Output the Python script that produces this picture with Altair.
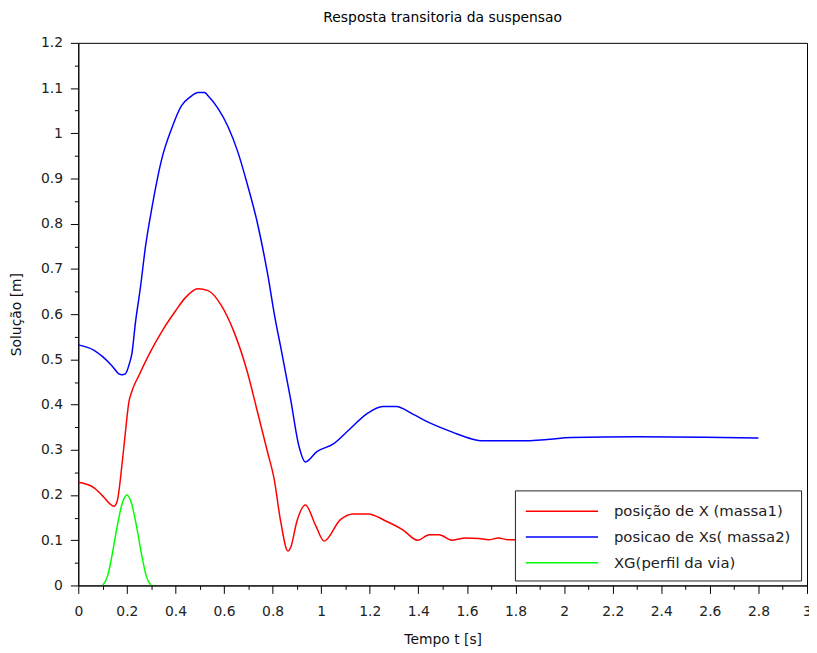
import altair as alt
import pandas as pd

# ---- data ----
labels = ["posição de X (massa1)", "posicao de Xs( massa2)", "XG(perfil da via)"]
colors = ["#ff0000", "#0000ff", "#00ff00"]

t_x = [0, 0.065, 0.1, 0.147, 0.16, 0.181, 0.194, 0.208, 0.221, 0.25, 0.3,
       0.35, 0.4, 0.44, 0.493, 0.534, 0.588, 0.643, 0.697, 0.738, 0.779, 0.806,
       0.833, 0.863, 0.875, 0.9, 0.935, 0.976, 1.012, 1.078, 1.132, 1.193, 1.268,
       1.336, 1.397, 1.445, 1.485, 1.54, 1.594, 1.648, 1.689, 1.73, 1.77, 1.8, 2.0,
       2.4, 2.8]
v_x = [0.228, 0.216, 0.198, 0.175, 0.186, 0.273, 0.339, 0.405, 0.43, 0.465, 0.52,
       0.567, 0.607, 0.636, 0.656, 0.652, 0.62, 0.558, 0.47, 0.383, 0.295, 0.236,
       0.142, 0.076, 0.085, 0.142, 0.178, 0.134, 0.098, 0.145, 0.158, 0.158, 0.142,
       0.123, 0.1, 0.112, 0.112, 0.1, 0.105, 0.104, 0.101, 0.105, 0.101, 0.101, 0.102,
       0.101, 0.101]

t_xs = [0, 0.065, 0.1, 0.14, 0.167, 0.18, 0.194, 0.201, 0.21, 0.221, 0.235, 0.256,
        0.276, 0.303, 0.344, 0.384, 0.425, 0.46, 0.493, 0.52, 0.534, 0.575, 0.616,
        0.656, 0.697, 0.738, 0.779, 0.812, 0.833, 0.874, 0.908, 0.935, 0.982, 1.05,
        1.118, 1.186, 1.254, 1.309, 1.377, 1.445, 1.54, 1.62, 1.66, 1.85, 1.93, 2.03,
        2.3, 2.58, 2.8]
v_xs = [0.532, 0.52, 0.506, 0.485, 0.468, 0.466, 0.468, 0.475, 0.49, 0.514, 0.58, 0.66,
        0.747, 0.835, 0.944, 1.01, 1.061, 1.08, 1.09, 1.09, 1.083, 1.055, 1.015,
        0.96, 0.885, 0.8, 0.69, 0.585, 0.528, 0.412, 0.309, 0.273, 0.296, 0.313,
        0.346, 0.379, 0.396, 0.396, 0.379, 0.36, 0.339, 0.324, 0.32, 0.32, 0.323, 0.327,
        0.329, 0.328, 0.326]

t_xg = [0.1, 0.12, 0.14, 0.16, 0.18, 0.2, 0.22, 0.24, 0.26, 0.28, 0.3]
v_xg = [0, 0.02, 0.07, 0.13, 0.18, 0.2, 0.18, 0.13, 0.07, 0.02, 0]

x_ticks = [round(i * 0.1, 10) for i in range(0, 31)]
y_ticks = [round(i * 0.05, 10) for i in range(0, 25)]

rows = []
for t, v in zip(t_x, v_x):
    rows.append({"t": t, "v": v, "serie": labels[0]})
for t, v in zip(t_xs, v_xs):
    rows.append({"t": t, "v": v, "serie": labels[1]})
for t, v in zip(t_xg, v_xg):
    rows.append({"t": t, "v": v, "serie": labels[2]})
df = pd.DataFrame(rows)

FONT = "DejaVu Sans"

chart = alt.Chart(df).mark_line(strokeWidth=1.5, clip=True, interpolate="monotone").encode(
    x=alt.X("t:Q",
            scale=alt.Scale(domain=[0, 3], nice=False, zero=False),
            axis=alt.Axis(values=x_ticks, title="Tempo t [s]", grid=False,
                          labelExpr="round(datum.value*10) % 2 == 0 ? format(datum.value, '~g') : ''",
                          tickSize={"condition": {"test": "round(datum.value*10) % 2 == 0", "value": 8}, "value": 4},
                          labelPadding=11, titlePadding=15, labelFlush=False, labelOverlap=False)),
    y=alt.Y("v:Q",
            scale=alt.Scale(domain=[0, 1.2], nice=False, zero=False),
            axis=alt.Axis(values=y_ticks, title="Solução [m]", grid=False,
                          labelExpr="round(datum.value*20) % 2 == 0 ? format(datum.value, '~g') : ''",
                          tickSize={"condition": {"test": "round(datum.value*20) % 2 == 0", "value": 8}, "value": 4},
                          labelPadding=8, titlePadding=17, labelFlush=False, labelOverlap=False)),
    color=alt.Color("serie:N",
                    scale=alt.Scale(domain=labels, range=colors),
                    legend=alt.Legend(title=None, orient="none", legendX=441, legendY=452,
                                      symbolType="M0,0H7.3", symbolSize=400, symbolOffset=-10,
                                      symbolStrokeWidth=1.5, labelOffset=78, labelLimit=400,
                                      labelFont=FONT, labelFontSize=15, labelColor="#222",
                                      labelExpr="datum.label + '  '",
                                      padding=10, rowPadding=7,
                                      fillColor="white", strokeColor="#222")),
).properties(
    width=736, height=548,
    title=alt.TitleParams("Resposta transitoria da suspensao", font=FONT, fontSize=14,
                          fontWeight="normal", color="#000", anchor="middle", offset=11),
    padding={"left": 71, "top": 32, "right": 2, "bottom": 62},
    autosize=alt.AutoSizeParams(type="none"),
).configure_view(
    stroke="#000", strokeWidth=1
).configure_axis(
    labelFont=FONT, labelFontSize=14, labelColor="#222",
    titleFont=FONT, titleFontSize=14, titleFontWeight="normal", titleColor="#111",
    domainColor="#000", tickColor="#000", domainWidth=1, tickWidth=1
)

chart.save("out.html", embed_options={"renderer": "svg", "actions": False})
